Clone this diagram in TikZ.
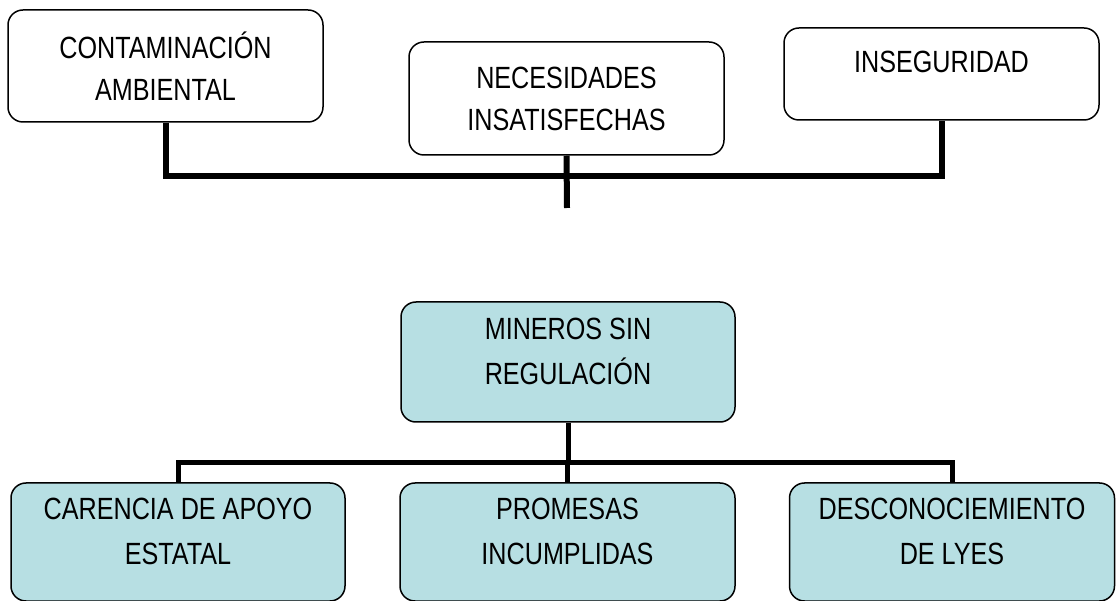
\documentclass[tikz,border=0pt]{standalone}
\usepackage{fontspec}
\setmainfont{Liberation Sans}[FakeStretch=0.82]
\definecolor{PaleTeal}{HTML}{B7DFE3}
\usetikzlibrary{calc}

\begin{document}
\begin{tikzpicture}[x=1pt,y=-1pt,
        box/.style={rounded corners=15pt,draw=black,line width=1.5pt,
                    fill=white,minimum width=315pt,minimum height=112pt,
                    inner sep=0pt,align=center,text=black,
                    font=\fontsize{30.7pt}{42pt}\selectfont},
        cause/.style={box,fill=PaleTeal,minimum width=334pt,
                      minimum height=118pt,text depth=22pt,
                      font=\fontsize{30.7pt}{45pt}\selectfont},
        link/.style={line width=6pt,draw=black},
        thinlink/.style={line width=5pt,draw=black}]

        \useasboundingbox (0,0) rectangle (1117,601);

        % effects (top row)
        \node[box] (cont) at (165.5,66) {CONTAMINACIÓN\\AMBIENTAL};
        \node[box,minimum height=113pt] (nec) at (566.5,98.5) {NECESIDADES\\INSATISFECHAS};
        \node[box,minimum height=92pt,text depth=24pt] (inseg) at (941.5,74) {INSEGURIDAD};

        \coordinate (topbar) at (567,176);
        \coordinate (stub) at (567,208);
        \draw[link] (cont.south) |- (inseg.south |- topbar) -- (inseg.south);
        \draw[link] (nec.south) -- (stub);

        % problem and causes
        \node[cause,minimum height=120pt] (min) at (568,362) {MINEROS SIN\\REGULACIÓN};
        \node[cause] (car)  at (178,542) {CARENCIA DE APOYO\\ESTATAL};
        \node[cause,minimum width=335pt] (prom) at (567.5,542) {PROMESAS\\INCUMPLIDAS};
        \node[cause,minimum width=325pt] (desc) at (952,542) {DESCONOCIEMIENTO\\DE LYES};

        \coordinate (hub) at (568,463);
        \draw[thinlink] (min.south) -- (hub);
        \foreach \n in {car,prom,desc}{
          \draw[thinlink] (hub) -| (\n.north);
        }
      \end{tikzpicture}
\end{document}
